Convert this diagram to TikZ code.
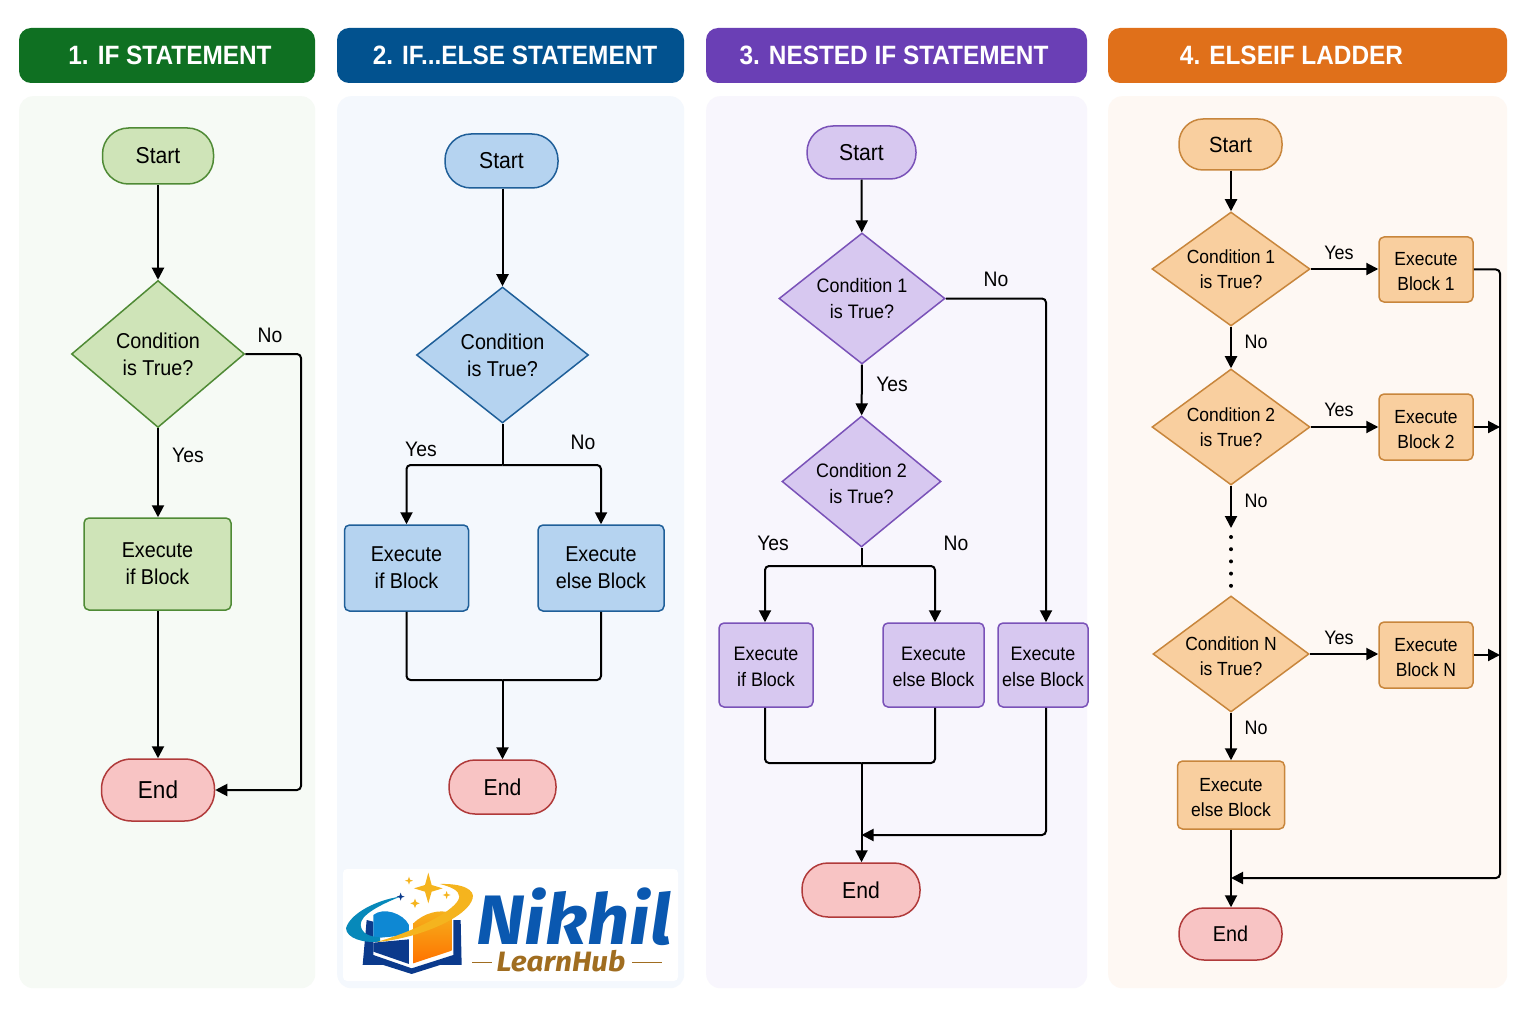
\documentclass[tikz,border=0pt]{standalone}
\usepackage{fontspec}
\setmainfont[FakeStretch=0.92]{Liberation Sans}
\newfontfamily\logofont[FakeStretch=1.06]{Fira Sans}
\usetikzlibrary{shapes.geometric,arrows.meta,positioning}
\definecolor{greenhead}{HTML}{0F7022}
\definecolor{bluehead}{HTML}{02528F}
\definecolor{purplehead}{HTML}{6A3FB5}
\definecolor{orangehead}{HTML}{E0701A}
\definecolor{greenpanel}{HTML}{F6FAF5}
\definecolor{bluepanel}{HTML}{F4F8FD}
\definecolor{purplepanel}{HTML}{F8F6FD}
\definecolor{orangepanel}{HTML}{FEF8F3}
\definecolor{greenfill}{HTML}{CFE4B8}
\definecolor{greenline}{HTML}{4F8A35}
\definecolor{bluefill}{HTML}{B5D3F0}
\definecolor{blueline}{HTML}{1F5F99}
\definecolor{purplefill}{HTML}{D7C8F0}
\definecolor{purpleline}{HTML}{7A52B8}
\definecolor{orangefill}{HTML}{F9CF9F}
\definecolor{orangeline}{HTML}{C8863C}
\definecolor{endfill}{HTML}{F8C4C4}
\definecolor{endline}{HTML}{B03A3A}
\definecolor{logoblue}{HTML}{0A58B0}
\definecolor{logodark}{HTML}{0B3A8C}
\definecolor{logogold}{HTML}{A06D20}
\definecolor{logostar}{HTML}{F5B41E}
\newcommand{\lowtext}{\rule{0pt}{18pt}}
\begin{document}
\begin{tikzpicture}[
        x=1pt, y=-1pt,
        header/.style={
            rectangle,
            rounded corners=12pt,
            text=white,
            align=center,
            font=\fontsize{26.5}{30}\selectfont\bfseries
        },
        panel/.style={
            rectangle,
            rounded corners=14pt,
            minimum height=892pt,
            anchor=north west
        },
        term/.style={
            rectangle,
            rounded corners=26pt,
            line width=1.5pt,
            text=black,
            font=\fontsize{23}{26}\selectfont
        },
        startg/.style={term, fill=greenfill, draw=greenline},
        startb/.style={term, fill=bluefill, draw=blueline},
        startp/.style={term, fill=purplefill, draw=purpleline},
        starto/.style={term, fill=orangefill, draw=orangeline},
        endterm/.style={term, fill=endfill, draw=endline},
        cond/.style={
            diamond,
            aspect=1.4,
            inner sep=0pt,
            line width=1.5pt,
            align=center,
            text=black
        },
        block/.style={
            rectangle,
            rounded corners=5pt,
            inner sep=0pt,
            line width=1.5pt,
            align=center,
            text=black
        },
        green/.style={fill=greenfill, draw=greenline, font=\fontsize{21.5}{27}\selectfont},
        blue/.style={fill=bluefill, draw=blueline, font=\fontsize{21.5}{27}\selectfont},
        purple/.style={fill=purplefill, draw=purpleline, font=\fontsize{19.5}{26}\selectfont},
        orange/.style={fill=orangefill, draw=orangeline, font=\fontsize{19}{25}\selectfont},
        arrow/.style={
            -{Stealth[length=12pt,width=12pt,inset=0pt]},
            line width=2pt,
            color=black
        },
        wire/.style={
            line width=2pt,
            rounded corners=4pt,
            color=black
        },
        tag/.style={
            text=black,
            inner sep=0pt,
            font=\fontsize{21}{24}\selectfont
        },
        tagsmall/.style={tag, font=\fontsize{19.5}{22}\selectfont}
    ]
        \useasboundingbox (0,0) rectangle (1536,1024);
        \fill[white] (0,0) rectangle (1536,1024);

        % panels and headers
        \node (panel1) [panel, fill=greenpanel, minimum width=296pt] at (19,96) {};
        \node (panel2) [panel, fill=bluepanel, minimum width=347pt] at (337,96) {};
        \node (panel3) [panel, fill=purplepanel, minimum width=381pt] at (706,96) {};
        \node (panel4) [panel, fill=orangepanel, minimum width=399pt] at (1108,96) {};
        \node (head1) [header, fill=greenhead, minimum width=296pt, minimum height=55pt] at (167,55.5) {\hspace*{6pt}1. IF STATEMENT};
        \node (head2) [header, fill=bluehead, minimum width=347pt, minimum height=55pt] at (510.5,55.5) {\hspace*{9pt}2. IF...ELSE STATEMENT};
        \node (head3) [header, fill=purplehead, minimum width=381pt, minimum height=55pt] at (896.5,55.5) {\hspace*{-5pt}3. NESTED IF STATEMENT};
        \node (head4) [header, fill=orangehead, minimum width=399pt, minimum height=55pt] at (1307.5,55.5) {\hspace*{-32pt}4. ELSEIF LADDER};

        % if
        \node (start1) [startg, minimum width=111pt, minimum height=56pt] at (158,156) {Start};
        \node (cond1) [cond, green, minimum width=173pt, minimum height=147pt] at (158,354) {Condition\\is True?};
        \node (blk1) [block, green, minimum width=147pt, minimum height=92pt] at (157.5,564) {Execute\\if Block};
        \node (end1) [endterm, minimum width=113pt, minimum height=62pt, rounded corners=30pt, font=\fontsize{24.5}{28}\selectfont] at (158,790) {End};
        \coordinate (no1) at (301,354);
        \coordinate (no1b) at (301,790);
        \draw[arrow] (start1) -- (cond1);
        \draw[arrow] (cond1) -- (blk1.north -| cond1);
        \draw[arrow] (blk1.south -| end1) -- (end1);
        \draw[wire, arrow] (cond1.east) -- (no1) -- (no1b) -- (end1.east);
        \node (yes1t) [tag] at (188,455) {Yes};
        \node (no1t) [tag] at (270,335) {No};

        % if else
        \node (start2) [startb, minimum width=113pt, minimum height=54pt] at (501.5,161) {Start};
        \node (cond2) [cond, blue, minimum width=172pt, minimum height=136pt] at (502.5,355) {Condition\\is True?};
        \coordinate (split2) at (502.5,465);
        \node (blk2a) [block, blue, minimum width=124pt, minimum height=86pt] at (406.5,568) {Execute\\if Block};
        \node (blk2b) [block, blue, minimum width=126pt, minimum height=86pt] at (601,568) {Execute\\else Block};
        \coordinate (merge2) at (502.5,680);
        \node (end2) [endterm, minimum width=107pt, minimum height=54pt] at (502.5,787) {End};
        \draw[arrow] (start2.south -| cond2) -- (cond2);
        \draw[wire] (cond2.south) -- (split2);
        \draw[wire, arrow] (split2) -| (blk2a.north);
        \draw[wire, arrow] (split2) -| (blk2b.north);
        \draw[wire] (blk2a.south) |- (merge2);
        \draw[wire] (blk2b.south) |- (merge2);
        \draw[arrow] (merge2) -- (end2);
        \node (yes2t) [tag] at (421,449) {Yes};
        \node (no2t) [tag] at (583,442) {No};

        % nested if
        \node (start3) [startp, minimum width=109pt, minimum height=53pt] at (861.5,152.5) {Start};
        \node (cond3a) [cond, purple, minimum width=166pt, minimum height=131pt] at (862,298.5) {Condition 1\\is True?};
        \node (cond3b) [cond, purple, minimum width=159pt, minimum height=131pt] at (861.5,481.5) {\lowtext Condition 2\\is True?};
        \coordinate (split3) at (861.5,566);
        \node (blk3a) [block, purple, minimum width=94pt, minimum height=84pt] at (766,665) {\lowtext Execute\\if Block};
        \node (blk3b) [block, purple, minimum width=101pt, minimum height=84pt] at (933.5,665) {\lowtext Execute\\else Block};
        \node (blk3c) [block, purple, minimum width=90pt, minimum height=84pt] at (1043,665) {\lowtext Execute\\else Block};
        \coordinate (no3) at (1046,298.5);
        \coordinate (no3b) at (1046,835);
        \coordinate (merge3) at (861.5,763);
        \coordinate (join3) at (861.5,835);
        \node (end3) [endterm, minimum width=118pt, minimum height=54pt] at (861,890) {End};
        \draw[arrow] (start3) -- (cond3a);
        \draw[arrow] (cond3a) -- (cond3b);
        \draw[wire] (cond3b.south) -- (split3);
        \draw[wire, arrow] (split3) -| ([xshift=-1pt]blk3a.north);
        \draw[wire, arrow] (split3) -| ([xshift=1.5pt]blk3b.north);
        \draw[wire] ([xshift=-1pt]blk3a.south) |- (merge3);
        \draw[wire] ([xshift=1.5pt]blk3b.south) |- (merge3);
        \draw[arrow] (merge3) -- (end3.north -| merge3);
        \draw[wire, arrow] (cond3a.east) -- (no3) -- (no3 |- blk3c.north);
        \draw[wire, arrow] (no3 |- blk3c.south) -- (no3b) -- (join3);
        \node (yes3t) [tag] at (892,384) {Yes};
        \node (no3t) [tag] at (996,279) {No};
        \node (yes3u) [tag] at (773,543) {Yes};
        \node (no3u) [tag] at (956,543) {No};

        % elseif ladder
        \node (start4) [starto, minimum width=103pt, minimum height=51pt, rounded corners=24pt, font=\fontsize{22}{26}\selectfont] at (1230.5,144.5) {Start};
        \node (cond4a) [cond, orange, minimum width=158pt, minimum height=114pt] at (1231,269) {Condition 1\\is True?};
        \node (cond4b) [cond, orange, minimum width=158pt, minimum height=116pt] at (1231,427) {Condition 2\\is True?};
        \node (cond4n) [cond, orange, minimum width=156pt, minimum height=116pt] at (1231,654) {\lowtext Condition N\\is True?};
        \node (blk4a) [block, orange, minimum width=94pt, minimum height=65pt] at (1426,269.5) {\lowtext Execute\\Block 1};
        \node (blk4b) [block, orange, minimum width=94pt, minimum height=66pt] at (1426,427) {\lowtext Execute\\Block 2};
        \node (blk4n) [block, orange, minimum width=94pt, minimum height=66pt] at (1426,655) {\lowtext Execute\\Block N};
        \node (blk4e) [block, orange, minimum width=107pt, minimum height=68pt] at (1231,795) {\lowtext Execute\\else Block};
        \node (end4) [endterm, minimum width=103pt, minimum height=52pt, rounded corners=25pt, font=\fontsize{21.5}{26}\selectfont] at (1230.5,934) {End};
        \coordinate (gap4a) at (1231,528);
        \coordinate (gap4b) at (1231,537);
        \coordinate (gap4c) at (1231,590);
        \coordinate (bus4a) at (1500,269.5);
        \coordinate (bus4b) at (1500,878);
        \coordinate (join4) at (1231,878);
        \draw[arrow] (start4.south -| cond4a) -- (cond4a);
        \draw[arrow] (cond4a) -- (cond4b);
        \draw[arrow] (cond4b) -- (gap4a);
        \draw[line width=4pt, dash pattern=on 0pt off 12.2pt, line cap=round] (gap4b) -- (gap4c);
        \draw[arrow] (cond4n) -- (blk4e);
        \draw[arrow] (blk4e) -- (end4.north -| blk4e);
        \draw[arrow] (cond4a.east) -- (blk4a.west |- cond4a.east);
        \draw[arrow] (cond4b.east) -- (blk4b.west);
        \draw[arrow] (cond4n.east) -- (cond4n.east -| blk4n.west);
        \draw[wire, arrow] (blk4a.east) -- (bus4a) -- (bus4b) -- (join4);
        \draw[arrow] (blk4b.east) -- (blk4b.east -| bus4a);
        \draw[arrow] (blk4n.east) -- (blk4n.east -| bus4a);
        \node (yes4a) [tagsmall] at (1339,253) {Yes};
        \node (yes4b) [tagsmall] at (1339,410) {Yes};
        \node (yes4n) [tagsmall] at (1339,638) {Yes};
        \node (no4a) [tagsmall] at (1256,342) {No};
        \node (no4b) [tagsmall] at (1256,501) {No};
        \node (no4n) [tagsmall] at (1256,728) {No};

        % logo
        \fill[white, rounded corners=4pt] (343,869) rectangle (678,981);
        \begin{scope}[shift={(340,860)}, scale=0.3333]
            \fill[logodark] (68,315) -- (80,180) -- (100,185) -- (100,285) -- (215,325) -- (340,285) -- (340,180) -- (362,180) -- (365,315) -- (300,315) -- (215,342) -- (130,315) -- cycle;
            \fill[cyan!70!blue] (100,235) -- (100,165) .. controls (130,140) and (190,160) .. (207,195) -- (207,225) -- cycle;
            \fill[logodark] (100,248) -- (207,238) -- (207,312) -- (100,275) -- cycle;
            \shade[top color=logostar, bottom color=orange!90!red] (220,190) .. controls (250,160) and (300,145) .. (335,160) -- (335,272) -- (220,310) -- cycle;
            \fill[logodark!60!cyan] (18,205) .. controls (30,160) and (110,120) .. (180,110) .. controls (120,135) and (60,165) .. (62,195) .. controls (65,222) and (90,230) .. (120,232) -- (120,245) .. controls (70,250) and (20,235) .. (18,205) -- cycle;
            \fill[logostar] (300,72) .. controls (370,70) and (405,90) .. (398,115) .. controls (385,170) and (240,235) .. (110,246) .. controls (220,215) and (355,150) .. (358,110) .. controls (358,90) and (330,80) .. (300,72) -- cycle;
            \fill[logostar] (265,38) -- (275,75) -- (308,85) -- (275,95) -- (265,130) -- (255,95) -- (222,85) -- (255,75) -- cycle;
            \fill[logostar] (207,50) -- (210,59) -- (219,62) -- (210,65) -- (207,74) -- (204,65) -- (195,62) -- (204,59) -- cycle;
            \fill[logostar] (320,93) -- (323,102) -- (332,105) -- (323,108) -- (320,117) -- (317,108) -- (308,105) -- (317,102) -- cycle;
            \fill[logostar] (225,116) -- (229,126) -- (239,130) -- (229,134) -- (225,144) -- (221,134) -- (211,130) -- (221,126) -- cycle;
            \fill[logodark] (182,98) -- (185,107) -- (194,110) -- (185,113) -- (182,122) -- (179,113) -- (170,110) -- (179,107) -- cycle;
            \fill[logogold] (397,305) -- (455,305) -- (455,309) -- (397,309) -- cycle;
            \fill[logogold] (875,305) -- (965,305) -- (965,309) -- (875,309) -- cycle;
        \end{scope}
        \node (logoname) [inner sep=0pt, text=logoblue, font=\logofont\fontsize{70}{72}\selectfont\bfseries\itshape] at (574,917) {Nikhil};
        \node (logosub) [inner sep=0pt, text=logogold, font=\logofont\fontsize{28}{32}\selectfont\itshape\bfseries] at (561,961) {LearnHub};
\end{tikzpicture}
\end{document}
